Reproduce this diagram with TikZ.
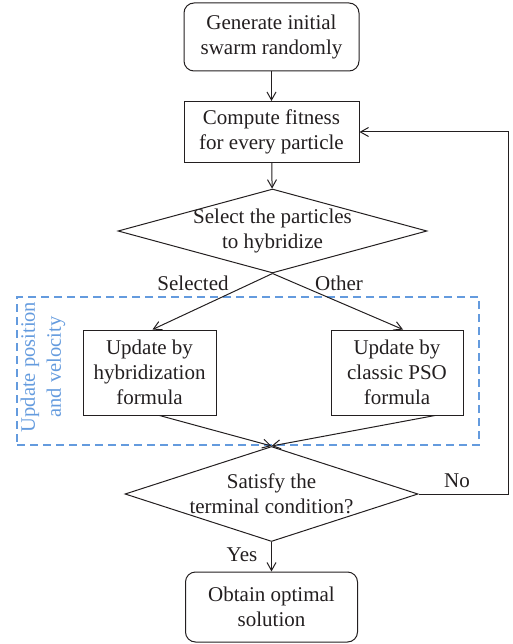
\documentclass[tikz,border=0pt]{standalone}
\usepackage{fontspec}
\setmainfont{Liberation Serif}
\usetikzlibrary{shapes.geometric,arrows.meta}
\definecolor{grpblue}{RGB}{100,155,222}
\definecolor{ink}{RGB}{35,31,32}
\begin{document}
\begin{tikzpicture}[x=1pt,y=-1pt,
  every node/.style={font=\fontsize{21pt}{25pt}\selectfont, text=ink},
  box/.style={draw=ink, line width=1pt, align=center, inner sep=0pt},
  rbox/.style={box, rounded corners=10pt},
  dec/.style={draw=ink, diamond, line width=1pt, inner sep=0pt},
  arr/.style={draw=ink, -{Straight Barb[length=8pt,width=9pt]}, line width=1pt},
  grpframe/.style={draw=grpblue, dash pattern=on 8pt off 5pt, line width=1.3pt, inner sep=0pt},
]
\useasboundingbox (0,0) rectangle (512,644);

\node[rbox, minimum width=175pt, minimum height=68pt] (start) at (271.5,37) {Generate initial\\swarm randomly};
\node[box, minimum width=175pt, minimum height=61pt] (fit) at (271.5,132) {Compute fitness\\for every particle};
\node[dec, minimum width=309pt, minimum height=84pt,
      label={[align=center]center:{Select the particles\\to hybridize}}] (sel) at (272.5,231) {};
\node[grpframe, minimum width=462pt, minimum height=148pt] (grp) at (248,371) {};
\node[text=grpblue, rotate=90, align=center, font=\fontsize{20.5pt}{26pt}\selectfont] (grplbl) at (43,367) {Update position\\and velocity};
\node[box, minimum width=133pt, minimum height=85pt] (hyb) at (149.5,372.5) {Update by\\hybridization\\formula};
\node[box, minimum width=132pt, minimum height=85pt] (pso) at (397,372.5) {Update by\\classic PSO\\formula};
\node[dec, minimum width=293pt, minimum height=95pt,
      label={[align=center]center:{Satisfy the\\terminal condition?}}] (term) at (271.5,494) {};
\node[rbox, minimum width=172pt, minimum height=70pt] (opt) at (271.5,607) {Obtain optimal\\solution};

\node (lsel) at (193,283) {Selected};
\node (loth) at (339,283) {Other};
\node (lno) at (457,481) {No};
\node (lyes) at (242,555) {Yes};

\coordinate (back) at (508,494);

\draw[arr] (start) -- (fit);
\draw[arr] (fit) -- (sel);
\draw[arr] (sel.south) -- ([xshift=3pt]hyb.north);
\draw[arr] (sel.south) -- ([xshift=6pt]pso.north);
\draw[arr] ([xshift=10pt]hyb.south) -- (term.north);
\draw[arr] ([xshift=38pt]pso.south) -- (term.north);
\draw[arr] (term.east) -- (back) |- (fit.east);
\draw[arr] (term.south) -- (opt.north);
\end{tikzpicture}
\end{document}
